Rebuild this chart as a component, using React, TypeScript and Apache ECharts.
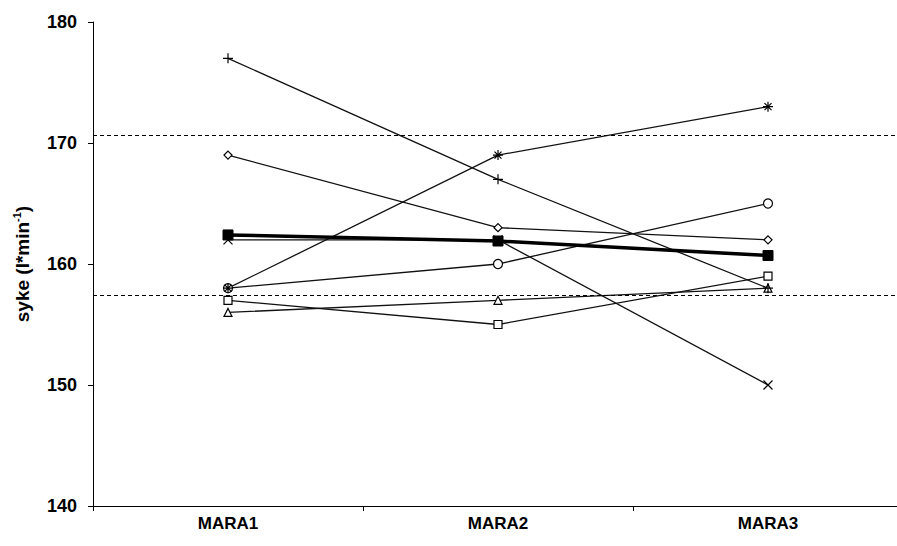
import React, { useEffect, useRef } from "react";
import * as echarts from "echarts";

const categories = ["MARA1", "MARA2", "MARA3"];
const plusSeries = [177, 167, 158];
const diamondSeries = [169, 163, 162];
const starSeries = [158, 169, 173];
const circleSeries = [158, 160, 165];
const crossSeries = [162, 162, 150];
const squareSeries = [157, 155, 159];
const triangleSeries = [156, 157, 158];
const meanSeries = [162.4, 161.9, 160.7];
const sdLines = [170.6, 157.4];
const yTicks = { min: 140, max: 180, interval: 10 };

const PLUS = "path://M5,0L5,10M0,5L10,5";
const CROSS = "path://M0,0L10,10M10,0L0,10";
const STAR = "path://M5,0L5,10M0,5L10,5M1.5,1.5L8.5,8.5M8.5,1.5L1.5,8.5";
const FONT = "Liberation Sans, Arial, sans-serif";

export default function App() {
  const ref = useRef<HTMLDivElement>(null);
  useEffect(() => {
    if (!ref.current) return;
    const chart = echarts.init(ref.current, null, { renderer: "svg" });
    const mk = (name: string, data: number[], symbol: string, size: number, extra: any = {}) => ({
      name,
      type: "line",
      data,
      symbol,
      symbolSize: size,
      showAllSymbol: true,
      lineStyle: { color: "#111", width: 1.3 },
      itemStyle: { color: "#fff", borderColor: "#000", borderWidth: 1.2 },
      z: 3,
      ...extra,
    });
    chart.setOption({
      animation: false,
      backgroundColor: "#fff",
      grid: { left: 93, top: 22, width: 810, height: 484 },
      xAxis: {
        type: "category",
        data: categories,
        boundaryGap: true,
        axisLine: { lineStyle: { color: "#000", width: 1 } },
        axisTick: { show: true, inside: false, length: 5, lineStyle: { color: "#000" } },
        axisLabel: {
          color: "#000",
          fontFamily: FONT,
          fontWeight: "bold",
          fontSize: 17,
          margin: 9,
        },
      },
      yAxis: {
        type: "value",
        min: yTicks.min,
        max: yTicks.max,
        interval: yTicks.interval,
        axisLine: { show: true, lineStyle: { color: "#000", width: 1 } },
        axisTick: { show: true, length: 5, lineStyle: { color: "#000" } },
        splitLine: { show: false },
        axisLabel: {
          color: "#000",
          fontFamily: FONT,
          fontWeight: "bold",
          fontSize: 18,
          margin: 16,
        },
        name: "{a|syke (l*min}{s|-1}{a|)}",
        nameLocation: "middle",
        nameRotate: 90,
        nameGap: 60,
        nameTextStyle: {
          color: "#000",
          fontFamily: FONT,
          fontWeight: "bold",
          fontSize: 19,
          rich: {
            a: { fontSize: 19, fontWeight: "bold", color: "#000", fontFamily: FONT, lineHeight: 22 },
            s: { fontSize: 11, fontWeight: "bold", color: "#000", fontFamily: FONT, verticalAlign: "top", lineHeight: 22, padding: [0, 0, 8, 0] },
          },
        },
      },
      series: [
        mk("sd", [], "none", 0, {
          markLine: {
            silent: true,
            symbol: "none",
            label: { show: false },
            lineStyle: { color: "#000", type: [4, 3], width: 1 },
            data: sdLines.map((v) => ({ yAxis: v })),
          },
        }),
        mk("triangle", triangleSeries, "triangle", 8),
        mk("square", squareSeries, "rect", 8),
        mk("circle", circleSeries, "circle", 9),
        mk("cross", crossSeries, CROSS, 9),
        mk("star", starSeries, STAR, 10),
        mk("diamond", diamondSeries, "diamond", 8),
        mk("plus", plusSeries, PLUS, 10),
        mk("mean", meanSeries, "rect", 10, {
          lineStyle: { color: "#000", width: 3.5 },
          itemStyle: { color: "#000", borderColor: "#000", borderWidth: 1 },
          z: 5,
        }),
      ],
    });
    return () => chart.dispose();
  }, []);
  return (
    <div style={{ position: "absolute", left: 0, top: 0, width: 897, height: 546, overflow: "hidden", background: "#fff" }}>
      <div ref={ref} style={{ width: 920, height: 546 }} />
    </div>
  );
}
